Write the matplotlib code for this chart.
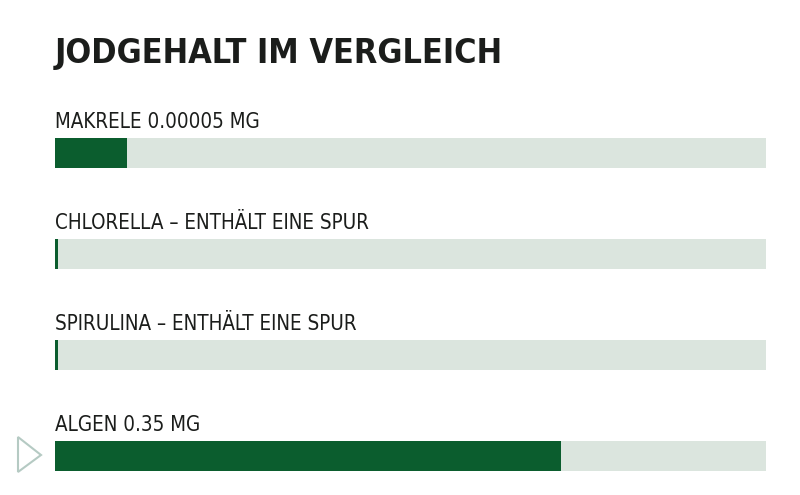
import matplotlib
matplotlib.use("Agg")
import matplotlib.pyplot as plt
from matplotlib.patches import Polygon

title = "JODGEHALT IM VERGLEICH"
labels = ["MAKRELE 0.00005 MG",
          "CHLORELLA – ENTHÄLT EINE SPUR",
          "SPIRULINA – ENTHÄLT EINE SPUR",
          "ALGEN 0.35 MG"]
fill_share = [0.101, 0.004, 0.004, 0.711]
track = [1.0, 1.0, 1.0, 1.0]

DARK = "#0b5d2e"
LIGHT = "#dbe5de"
TEXT = "#1b1d1b"
W, H = 800, 495

fig = plt.figure(figsize=(8, 4.95), dpi=100)
fig.patch.set_facecolor("white")

left_px, right_px = 55, 766
top_px, bot_px = 100, 495
ax = fig.add_axes([left_px / W, 1 - bot_px / H, (right_px - left_px) / W, (bot_px - top_px) / H])
step = 101.0
y0_px = 153.0
ax.set_xlim(0, 1)
ax.set_ylim((bot_px - y0_px) / step, (top_px - y0_px) / step)
ax.axis("off")

ypos = list(range(len(labels)))
bh = 30 / step
ax.barh(ypos, track, height=bh, color=LIGHT, left=0)
ax.barh(ypos, fill_share, height=bh, color=DARK, left=0)

fam = ["DejaVu Sans"]
for y, lab in zip(ypos, labels):
    ax.text(0, y - 25 / step, lab, fontsize=14.8, family=fam, stretch="condensed",
            color=TEXT, va="baseline", ha="left")

fig.text(55 / W, 1 - 63 / H, title, fontsize=24.5, fontweight="bold", family=fam,
         stretch="condensed", color=TEXT, va="baseline", ha="left")

tri = Polygon([(18 / W, 1 - 437 / H), (18 / W, 1 - 472 / H), (41 / W, 1 - 455 / H)],
              closed=True, fill=False, edgecolor="#b5cac3", linewidth=1.5,
              transform=fig.transFigure)
fig.patches.append(tri)

fig.savefig("out.png", dpi=100)
